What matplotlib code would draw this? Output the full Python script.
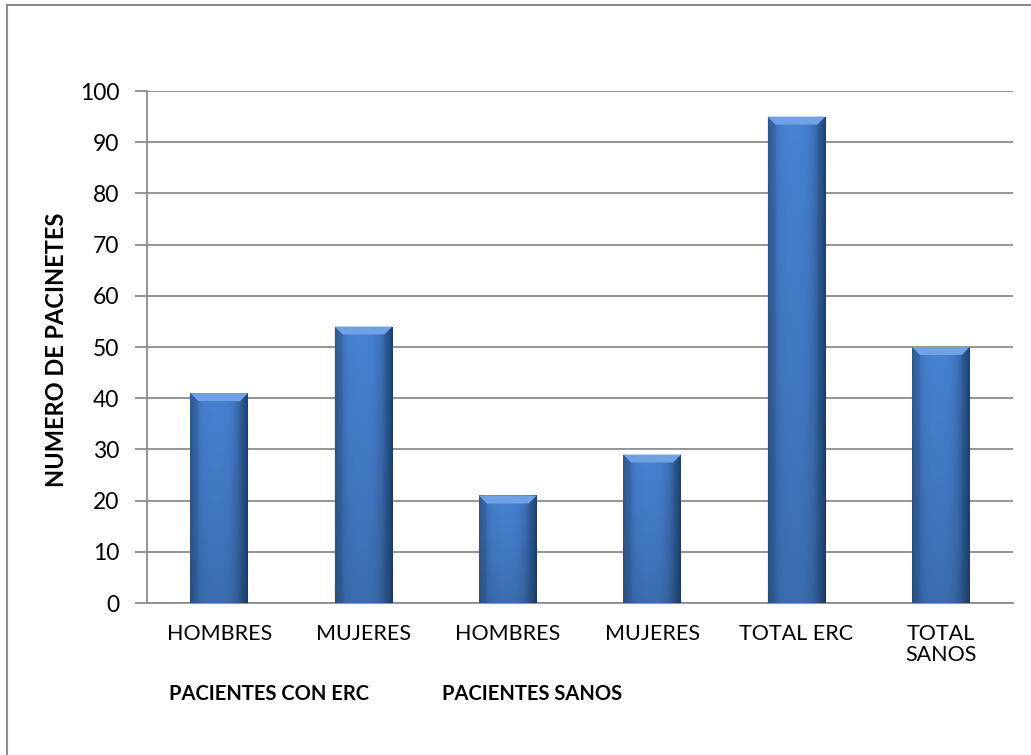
import matplotlib
matplotlib.use('Agg')
import matplotlib.pyplot as plt
import numpy as np
from matplotlib.patches import Polygon
from matplotlib.lines import Line2D
from matplotlib.colors import to_rgb

plt.rcParams['font.family'] = ['Lato', 'DejaVu Sans']

# datos del grafico
categorias = ["HOMBRES", "MUJERES", "HOMBRES", "MUJERES", "TOTAL ERC", "TOTAL\nSANOS"]
pacientes = [41, 54, 21, 29, 95, 50]
grupos = ["PACIENTES CON ERC", "PACIENTES SANOS"]
y_ticks = list(range(0, 101, 10))

W, H = 1031, 755
fig = plt.figure(figsize=(W / 100, H / 100), dpi=100)
fig.patch.set_facecolor('white')

# posicion del area de trazado (en pixeles)
left, right, top, bottom = 147, 1013, 91, 603
ax = fig.add_axes([left / W, (H - bottom) / H, (right - left) / W, (bottom - top) / H])

gris = '#8c8c8c'
ancho = 0.40

ax.set_xlim(-0.5, len(categorias) - 0.5)
ax.set_ylim(0, 100)
ax.set_yticks(y_ticks)
ax.yaxis.grid(True, color=gris, linewidth=1.3)
ax.set_axisbelow(True)
for s in ('top', 'right'):
    ax.spines[s].set_visible(False)
for s in ('left', 'bottom'):
    ax.spines[s].set_color(gris)
    ax.spines[s].set_linewidth(1.3)
ax.tick_params(axis='y', length=9, width=1.3, color=gris, pad=11, labelsize=16.5)
ax.tick_params(axis='x', length=0, pad=15, labelsize=15.5)
ax.set_xticks(range(len(categorias)))
ax.set_xticklabels(categorias, linespacing=1.1)

bars = ax.bar(range(len(categorias)), pacientes, width=ancho, color='#3a73bf', zorder=2)

# degradado de cada barra: bordes oscuros, centro claro
nx, ny = 60, 200
xs = np.linspace(0, 1, nx)
ys = np.linspace(0, 1, ny)
perfil_h = 1 - 0.40 * np.abs(2 * xs - 0.9) ** 3
perfil_h = np.clip(perfil_h, 0, 1)
perfil_v = 0.84 + 0.16 * ys  # mas oscuro abajo
claro = np.array(to_rgb('#4683d2'))
img = perfil_v[:, None, None] * perfil_h[None, :, None] * claro[None, None, :]
img = np.clip(img, 0, 1)

dx_px, dy_px = 8, 8
sx = (right - left) / len(categorias)
sy = (bottom - top) / 100
for b in bars:
    x0, w, h = b.get_x(), b.get_width(), b.get_height()
    im = ax.imshow(img, extent=[x0, x0 + w, 0, h], origin='lower',
                   aspect='auto', zorder=3, interpolation='bilinear')
    im.set_clip_path(b)
    dx, dy = dx_px / sx, dy_px / sy
    # bordes laterales oscuros
    for xa, xb in ((x0, x0 + dx), (x0 + w, x0 + w - dx)):
        lado = Polygon([[xa, h], [xb, h - dy], [xb, 0], [xa, 0]],
                       closed=True, facecolor='#1f4f8f', edgecolor='none', zorder=4, alpha=0.25)
        ax.add_patch(lado)
    # bisel superior
    bisel = Polygon([[x0, h], [x0 + w, h], [x0 + w - dx, h - dy], [x0 + dx, h - dy]],
                    closed=True, facecolor='#6ea2e4', edgecolor='none', zorder=5)
    ax.add_patch(bisel)

# etiquetas de grupo
fig.text(269 / W, (H - 694) / H, grupos[0], ha='center', va='center',
         fontsize=14.5, fontweight='bold')
fig.text(532 / W, (H - 694) / H, grupos[1], ha='center', va='center',
         fontsize=14.5, fontweight='bold')

# titulo del eje y
fig.text(57 / W, (H - 350) / H, "NUMERO DE PACINETES", rotation=90,
         ha='center', va='center', fontsize=17, fontweight='bold')

# borde del grafico
fig.add_artist(Line2D([7 / W, 7 / W], [0, (H - 5) / H], color=gris, linewidth=1.5))
fig.add_artist(Line2D([7 / W, 1], [(H - 5) / H, (H - 5) / H], color=gris, linewidth=1.5))

fig.savefig('out.png', dpi=100, facecolor='white')
